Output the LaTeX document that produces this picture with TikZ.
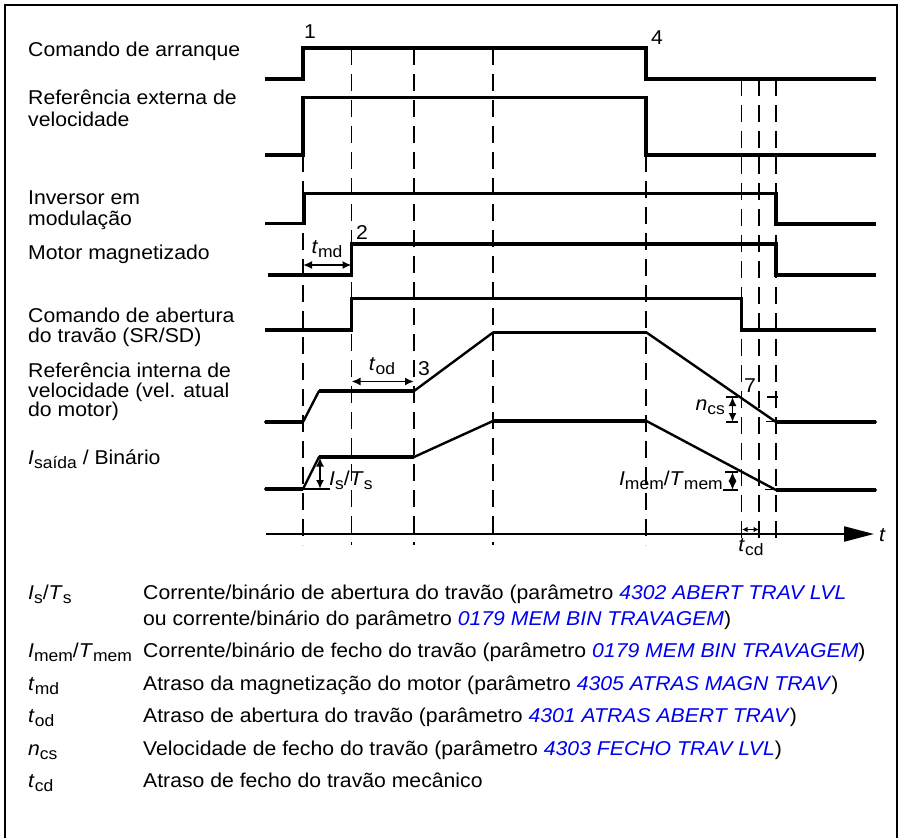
\documentclass[tikz,border=0pt]{standalone}
\usepackage{fontspec}
\setmainfont{Liberation Sans}[FakeStretch=1.06]
\usetikzlibrary{arrows.meta}
\definecolor{parblue}{RGB}{0,0,240}
\newcommand\prm[1]{\textcolor{parblue}{\textit{#1}}}
\newcommand\sym[2]{\textit{#1}\raisebox{-4.5pt}{\fontsize{16.5}{17}\selectfont #2}}
\begin{document}
\begin{tikzpicture}[x=1pt,y=-1pt,
  lbl/.style={font=\fontsize{20}{24}\selectfont, inner sep=0pt, anchor=base west},
  num/.style={font=\fontsize{20}{24}\selectfont, inner sep=0pt, anchor=base},
  sig/.style={line width=3.4pt, line join=miter},
  ramp/.style={line width=2.4pt, line join=round, line cap=round},
  grid/.style={line width=1.1pt, dash pattern=on 17pt off 9pt},
  tick/.style={line width=1.4pt},
  dimarrow/.style={line width=1.7pt, {Latex[length=9pt,width=8pt]}-{Latex[length=9pt,width=8pt]}},
  smallarrow/.style={line width=1.3pt, {Latex[length=5.5pt,width=5.5pt]}-{Latex[length=5.5pt,width=5.5pt]}},
  frame/.style={line width=1.2pt}
]
\useasboundingbox (0,0) rectangle (901,837);
\fill[white] (0,0) rectangle (901,837);
% frame (bottom edge lies outside the picture)
\draw[frame] (5,840) -- (5,5) -- (897,5) -- (897,840);

% ---------- dashed time markers ----------
\foreach \xx/\yy in {303/155, 351.5/48, 414/48, 493/48, 646/155, 741.5/79, 759/79, 776/79}
  \draw[grid] (\xx,\yy) -- (\xx,545);

% ---------- signal traces ----------
\draw[sig] (265,79) -- (303,79) -- (303,48) -- (646,48) -- (646,79) -- (876,79);
\draw[sig] (265,155) -- (303,155) -- (303,97.5) -- (646,97.5) -- (646,155) -- (876,155);
\draw[sig] (265,223.5) -- (304,223.5) -- (304,193.5) -- (776,193.5) -- (776,224) -- (876,224);
\draw[sig] (268,275) -- (351.5,275) -- (351.5,244) -- (776,244) -- (776,275) -- (876,275);
\draw[sig] (265,330) -- (351.5,330) -- (351.5,298.5) -- (741.5,298.5) -- (741.5,330) -- (876,330);
% speed reference
\draw[ramp] (265,422) -- (303,422) -- (319,391) -- (414,391) -- (493,332.5) -- (646.5,332.5) -- (776,422) -- (876,422);
\draw[sig] (265,422) -- (303,422);
\draw[sig] (319,391) -- (414,391);
\draw[sig] (493,332.5) -- (646.5,332.5);
\draw[sig] (776,422) -- (876,422);
% current / torque
\draw[ramp] (265,489) -- (303,489) -- (319,457) -- (414,457) -- (493,421) -- (646.5,421) -- (776,490) -- (876,490);
\draw[sig] (265,489) -- (303,489);
\draw[sig] (319,457) -- (414,457);
\draw[sig] (493,421) -- (646.5,421);
\draw[sig] (776,490) -- (876,490);

% ---------- time axis ----------
\coordinate (ax0) at (266,534);
\coordinate (ax1) at (874,534);
\draw[line width=2.2pt, -{Triangle[length=30pt,width=15pt]}] (ax0) -- (ax1);
\node[lbl, font=\fontsize{20}{24}\selectfont\itshape] (tlab) at (879,541) {t};

% ---------- event numbers ----------
\node[num] (e1) at (310,39) {1};
\node[num] (e2) at (362,239) {2};
\node[num] (e3) at (424,375) {3};
\node[num] (e4) at (657,45) {4};
\node[num] (e7) at (750,392) {7};

% ---------- dimension marks ----------
\coordinate (md0) at (303,265); \coordinate (md1) at (351.5,265);
\draw[dimarrow] (md0) -- (md1);
\node[num] (tmd) at (327,253) {\sym{t}{md}};

\coordinate (od0) at (351.5,381.5); \coordinate (od1) at (414,381.5);
\draw[dimarrow] (od0) -- (od1);
\node[num] (tod) at (382,370) {\sym{t}{od}};

\coordinate (is0) at (320,457.5); \coordinate (is1) at (320,489);
\draw[dimarrow] (is0) -- (is1);
\draw[tick] (303,489) -- (330,489);
\node[lbl] (islab) at (329,485) {\sym{I}{s}/\sym{T}{s}};

\coordinate (ncs0) at (732.5,397); \coordinate (ncs1) at (732.5,422);
\draw[dimarrow] (ncs0) -- (ncs1);
\draw[tick] (726,397) -- (738,397);
\draw[tick] (726,422) -- (738,422);
\draw[tick] (767,397) -- (778,397);
\draw[tick] (766,421.5) -- (776,421.5);
\node[lbl, anchor=base east] (ncslab) at (725,410) {\sym{n}{cs}};

\coordinate (im0) at (732.5,472); \coordinate (im1) at (732.5,490);
\draw[dimarrow] (im0) -- (im1);
\draw[tick] (725,472) -- (738,472);
\draw[tick] (723,490) -- (738,490);
\draw[tick] (765,489.5) -- (776,489.5);
\node[lbl, anchor=base east] (imlab) at (723,485) {\sym{I}{mem}/\sym{T}{mem}};

\coordinate (cd0) at (742,529.5); \coordinate (cd1) at (759,529.5);
\draw[smallarrow] (cd0) -- (cd1);
\node[num] (tcd) at (751,551) {\sym{t}{cd}};

% ---------- signal names ----------
\node[lbl] (n1)  at (28,57)  {Comando de arranque};
\node[lbl] (n2a) at (28,105) {Referência externa de};
\node[lbl] (n2b) at (28,127) {velocidade};
\node[lbl] (n3a) at (28,204) {Inversor em};
\node[lbl] (n3b) at (28,225) {modulação};
\node[lbl] (n4)  at (28,259) {Motor magnetizado};
\node[lbl] (n5a) at (28,322) {Comando de abertura};
\node[lbl] (n5b) at (28,342) {do travão (SR/SD)};
\node[lbl] (n6a) at (28,377) {Referência interna de};
\node[lbl] (n6b) at (28,397) {velocidade (vel. atual};
\node[lbl] (n6c) at (28,416) {do motor)};
\node[lbl] (n7)  at (28,464) {\sym{I}{saída} / Binário};

% ---------- legend ----------
\node[lbl] (k1)  at (28,599)  {\sym{I}{s}/\sym{T}{s}};
\node[lbl] (d1a) at (143,599) {Corrente/binário de abertura do travão (parâmetro \prm{4302 ABERT TRAV LVL}};
\node[lbl] (d1b) at (143,625) {ou corrente/binário do parâmetro \prm{0179 MEM BIN TRAVAGEM})};
\node[lbl] (k2)  at (28,657)  {\sym{I}{mem}/\sym{T}{mem}};
\node[lbl] (d2)  at (143,657) {Corrente/binário de fecho do travão (parâmetro \prm{0179 MEM BIN TRAVAGEM})};
\node[lbl] (k3)  at (28,690)  {\sym{t}{md}};
\node[lbl] (d3)  at (143,690) {Atraso da magnetização do motor (parâmetro \prm{4305 ATRAS MAGN TRAV})};
\node[lbl] (k4)  at (28,722)  {\sym{t}{od}};
\node[lbl] (d4)  at (143,722) {Atraso de abertura do travão (parâmetro \prm{4301 ATRAS ABERT TRAV})};
\node[lbl] (k5)  at (28,755)  {\sym{n}{cs}};
\node[lbl] (d5)  at (143,755) {Velocidade de fecho do travão (parâmetro \prm{4303 FECHO TRAV LVL})};
\node[lbl] (k6)  at (28,787)  {\sym{t}{cd}};
\node[lbl] (d6)  at (143,787) {Atraso de fecho do travão mecânico};
\end{tikzpicture}
\end{document}
